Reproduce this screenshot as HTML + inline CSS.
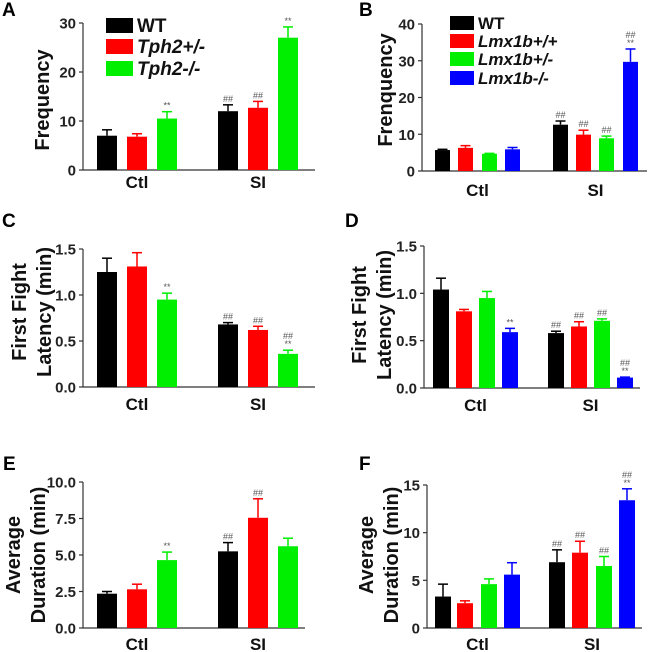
<!DOCTYPE html>
<html><head><meta charset="utf-8"><style>
html,body{margin:0;padding:0;background:#fff;}
svg{display:block;font-family:"Liberation Sans",Arial,sans-serif;}
</style></head><body>
<svg id="fig" width="649" height="652" viewBox="0 0 649 652" xmlns="http://www.w3.org/2000/svg"></svg>
<script>
const colors4 = ["#000000","#ff0000","#00ee00","#0000ff"];
const categories = ["Ctl","SI"];
// Panel A
const aCtl = [7, 6.8, 10.5];
const aCtlErr = [1.2, 0.6, 1.4];
const aSI = [12, 12.7, 27];
const aSIErr = [1.3, 1.3, 2.2];
const aTicks = [0, 10, 20, 30];
const aTickLabels = ["0","10","20","30"];
// Panel B
const bCtl = [5.7, 6.3, 4.7, 5.9];
const bCtlErr = [0.2, 0.6, 0.1, 0.5];
const bSI = [12.6, 9.9, 8.9, 29.7];
const bSIErr = [1.0, 1.2, 0.6, 3.5];
const bTicks = [0, 10, 20, 30, 40];
const bTickLabels = ["0","10","20","30","40"];
// Panel C
const cCtl = [1.25, 1.31, 0.95];
const cCtlErr = [0.15, 0.15, 0.07];
const cSI = [0.68, 0.62, 0.36];
const cSIErr = [0.02, 0.04, 0.04];
const cTicks = [0, 0.5, 1.0, 1.5];
const cTickLabels = ["0.0","0.5","1.0","1.5"];
// Panel D
const dCtl = [1.04, 0.81, 0.95, 0.59];
const dCtlErr = [0.12, 0.02, 0.07, 0.04];
const dSI = [0.58, 0.65, 0.71, 0.11];
const dSIErr = [0.02, 0.05, 0.02, 0.005];
const dTicks = [0, 0.5, 1.0, 1.5];
const dTickLabels = ["0.0","0.5","1.0","1.5"];
// Panel E
const eCtl = [2.35, 2.65, 4.65];
const eCtlErr = [0.15, 0.35, 0.55];
const eSI = [5.25, 7.55, 5.6];
const eSIErr = [0.6, 1.3, 0.55];
const eTicks = [0, 2.5, 5, 7.5, 10];
const eTickLabels = ["0.0","2.5","5.0","7.5","10.0"];
// Panel F
const fCtl = [3.3, 2.6, 4.6, 5.6];
const fCtlErr = [1.3, 0.25, 0.55, 1.25];
const fSI = [6.9, 7.9, 6.5, 13.4];
const fSIErr = [1.3, 1.2, 1.0, 1.2];
const fTicks = [0, 5, 10, 15];
const fTickLabels = ["0","5","10","15"];

const NS = "http://www.w3.org/2000/svg";
const svg = document.getElementById("fig");
function mk(tag, attrs, parent, text){
  const e = document.createElementNS(NS, tag);
  for (const k in attrs) e.setAttribute(k, attrs[k]);
  if (text !== undefined) e.textContent = text;
  (parent||svg).appendChild(e);
  return e;
}

function panel(p){
  const g = mk("g", {});
  
  
  const y = v => p.y0 - (v / p.max) * (p.y0 - p.yTop);
  const lt = mk("text", {x:p.lx, y:p.ly, "font-size":19, "font-weight":"bold"}, g, p.letter);
  
  
  const ya = mk("line", {x1:p.ax, x2:p.ax, y1:p.y0, y2:y(p.max), stroke:"#333", "stroke-width":1.2}, g);
  
  
  const xa = mk("line", {x1:p.ax, x2:p.axEnd, y1:p.y0, y2:p.y0, stroke:"#333", "stroke-width":1.2}, g);
  
  
  p.ticks.forEach((t,i)=>{
    const tk = mk("line", {x1:p.ax-4, x2:p.ax, y1:y(t), y2:y(t), stroke:"#333", "stroke-width":1.2}, g);
    
    
    const tl = mk("text", {x:p.ax-7, y:y(t)+5.5, "text-anchor":"end", "font-size":15, "font-weight":"bold", fill:"#222"}, g, p.tickLabels[i]);
    
    
  });
  const tt = mk("text", {transform:`translate(${p.tx},${p.ty}) rotate(-90)`, "text-anchor":"middle", "font-size":20, "font-weight":"bold", fill:"#111"}, g);
  
  
  p.title.forEach((line,i)=>{
    mk("tspan", {x:0, dy: i===0 ? (p.title.length>1 ? -2 : 7) : 25}, tt, line);
  });
  const groups = [[p.ctl,p.ctlErr,p.ctlAnn,p.ctlX],[p.si,p.siErr,p.siAnn,p.siX]];
  groups.forEach((gr,gi)=>{
    const [vals, errs, anns, xs] = gr;
    vals.forEach((v,i)=>{
      const x0 = xs[i], c = colors4[i];
      const r = mk("rect", {x:x0, y:y(v), width:p.bw, height:p.y0-y(v), fill:c}, g);
      
      
      const cx = x0 + p.bw/2, te = y(v+errs[i]);
      const el = mk("line", {x1:cx, x2:cx, y1:y(v), y2:te, stroke:c, "stroke-width":1.5}, g);
      
      
      mk("line", {x1:cx-5, x2:cx+5, y1:te, y2:te, stroke:c, "stroke-width":1.5}, g);
      const a = anns[i];
      if (a){
        const parts = a.split("/");
        parts.forEach((s,k)=>{
          const at = mk("text", {x:cx, y:te-3-(parts.length-1-k)*8, "text-anchor":"middle", "font-size":9, fill:"#555"}, g, s);
          
          
        });
      }
    });
    const center = (xs[0] + xs[xs.length-1] + p.bw)/2;
    const cl = mk("text", {x:center, y:p.cy, "text-anchor":"middle", "font-size":17, "font-weight":"bold", fill:"#111"}, g, categories[gi]);
    
    
  });
  if (p.legend){
    p.legend.forEach((L,i)=>{
      const ly = p.legY[i];
      const sw = mk("rect", {x:p.legX, y:ly, width:p.legW, height:p.legH, fill:colors4[i]}, g);
      
      
      const t = mk("text", {x:p.legX+p.legW+4, y:ly+p.legH-1, "font-size":p.legFS, "font-weight":"bold", "font-style": i===0?"normal":"italic", fill:"#111"}, g, L);
      
      
    });
  }
}

const x3c = [97,127,157], x3s = [218,248,278];
panel({letter:"A", lx:2, ly:16, ax:83, axEnd:315, y0:170, yTop:23, max:30, ticks:aTicks, tickLabels:aTickLabels,
  tx:42, ty:100, title:["Frequency"], ctl:aCtl, ctlErr:aCtlErr, si:aSI, siErr:aSIErr, bw:20, ctlX:x3c, siX:x3s,
  ctlAnn:["","","**"], siAnn:["##","##","**"], cy:188,
  legend:["WT","Tph2+/-","Tph2-/-"], legX:106, legY:[18,39,61], legW:27, legH:15, legFS:19});
panel({letter:"B", lx:359, ly:16, ax:422, axEnd:647, y0:171, yTop:24, max:40, ticks:bTicks, tickLabels:bTickLabels,
  tx:385, ty:90, title:["Frenquency"], ctl:bCtl, ctlErr:bCtlErr, si:bSI, siErr:bSIErr, bw:15,
  ctlX:[435,458,482,505], siX:[553,576,599,623],
  ctlAnn:["","","",""], siAnn:["##","##","##","##/**"], cy:196,
  legend:["WT","Lmx1b+/+","Lmx1b+/-","Lmx1b-/-"], legX:450, legY:[16,34,52,71], legW:24, legH:14, legFS:17});
panel({letter:"C", lx:2, ly:227, ax:83, axEnd:315, y0:387, yTop:249, max:1.5, ticks:cTicks, tickLabels:cTickLabels,
  tx:28, ty:312, title:["First Fight","Latency (min)"], ctl:cCtl, ctlErr:cCtlErr, si:cSI, siErr:cSIErr, bw:20, ctlX:x3c, siX:x3s,
  ctlAnn:["","","**"], siAnn:["##","##","##/**"], cy:410});
panel({letter:"D", lx:345, ly:227, ax:424, axEnd:640, y0:388, yTop:246, max:1.5, ticks:dTicks, tickLabels:dTickLabels,
  tx:368, ty:315, title:["First Fight","Latency (min)"], ctl:dCtl, ctlErr:dCtlErr, si:dSI, siErr:dSIErr, bw:16,
  ctlX:[433,456,479,502], siX:[548,571,594,617],
  ctlAnn:["","","","**"], siAnn:["##","##","##","##/**"], cy:411});
panel({letter:"E", lx:3, ly:470, ax:83, axEnd:305, y0:628, yTop:482, max:10, ticks:eTicks, tickLabels:eTickLabels,
  tx:22, ty:555, title:["Average","Duration (min)"], ctl:eCtl, ctlErr:eCtlErr, si:eSI, siErr:eSIErr, bw:20, ctlX:x3c, siX:x3s,
  ctlAnn:["","","**"], siAnn:["##","##",""], cy:650});
panel({letter:"F", lx:359, ly:470, ax:427, axEnd:642, y0:628, yTop:485, max:15, ticks:fTicks, tickLabels:fTickLabels,
  tx:375, ty:555, title:["Average","Duration (min)"], ctl:fCtl, ctlErr:fCtlErr, si:fSI, siErr:fSIErr, bw:16,
  ctlX:[435,457,481,504], siX:[549,572,596,619],
  ctlAnn:["","","",""], siAnn:["##","##","##","##/**"], cy:650});
</script>
</body></html>
